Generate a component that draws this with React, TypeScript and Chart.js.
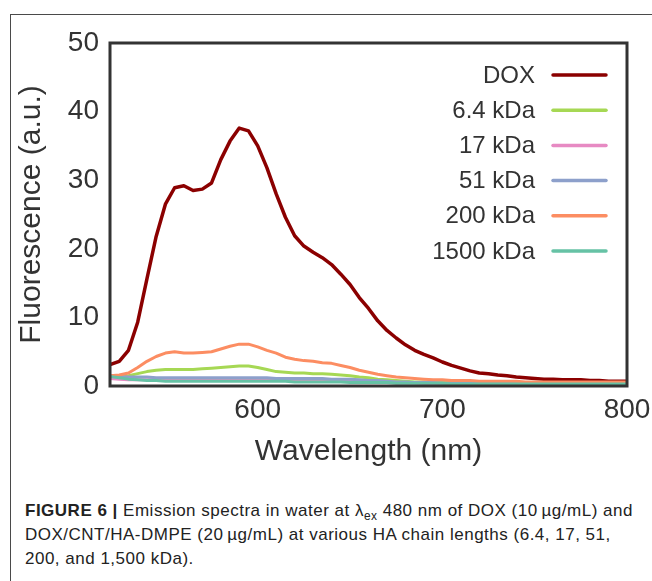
import React, { useEffect, useRef } from "react";
import { Chart, registerables } from "chart.js";

Chart.register(...registerables);

// Wavelength grid (nm)
const wavelengths = [
  520, 525, 530, 535, 540, 545, 550, 555, 560, 565, 570, 575, 580, 585, 590, 595,
  600, 605, 610, 615, 620, 625, 630, 635, 640, 645, 650, 655, 660, 665, 670, 675,
  680, 685, 690, 695, 700, 705, 710, 715, 720, 725, 730, 735, 740, 745, 750, 755,
  760, 765, 770, 775, 780, 785, 790, 795, 800,
];

const seriesLabels = ["DOX", "6.4 kDa", "17 kDa", "51 kDa", "200 kDa", "1500 kDa"];
const seriesColors = ["#8b0000", "#a6d854", "#e78ac3", "#8da0cb", "#fc8d62", "#66c2a5"];

const dox = [
  3.1, 3.6, 5.2, 9.3, 15.6, 21.8, 26.5, 28.9, 29.2, 28.5, 28.7, 29.6, 33.0, 35.7, 37.6, 37.2,
  35.0, 31.8, 28.0, 24.6, 21.9, 20.4, 19.5, 18.7, 17.7, 16.3, 14.8, 12.9, 11.3, 9.5, 8.1, 7.0,
  6.0, 5.2, 4.6, 4.1, 3.5, 3.0, 2.6, 2.2, 1.9, 1.8, 1.6, 1.5, 1.3, 1.2, 1.1, 1.0,
  1.0, 0.9, 0.9, 0.9, 0.8, 0.8, 0.7, 0.7, 0.7,
];
const kda6_4 = [
  1.4, 1.4, 1.5, 1.8, 2.1, 2.3, 2.4, 2.4, 2.4, 2.4, 2.5, 2.6, 2.7, 2.8, 2.9, 2.9,
  2.7, 2.4, 2.1, 2.0, 1.9, 1.9, 1.8, 1.8, 1.7, 1.6, 1.5, 1.3, 1.2, 1.0, 0.9, 0.8,
  0.7, 0.6, 0.6, 0.5, 0.5, 0.5, 0.5, 0.4, 0.4, 0.4, 0.4, 0.4, 0.4, 0.4, 0.4, 0.4,
  0.4, 0.4, 0.4, 0.4, 0.4, 0.4, 0.4, 0.4, 0.4,
];
const kda17 = [
  1.1, 1.0, 0.9, 0.9, 0.9, 0.9, 0.9, 0.8, 0.8, 0.8, 0.8, 0.8, 0.8, 0.8, 0.8, 0.8,
  0.8, 0.8, 0.8, 0.8, 0.8, 0.8, 0.8, 0.8, 0.8, 0.7, 0.7, 0.7, 0.7, 0.6, 0.6, 0.5,
  0.5, 0.5, 0.4, 0.4, 0.4, 0.4, 0.4, 0.4, 0.4, 0.3, 0.3, 0.3, 0.3, 0.3, 0.3, 0.3,
  0.3, 0.3, 0.3, 0.3, 0.3, 0.3, 0.3, 0.3, 0.3,
];
const kda51 = [
  1.5, 1.4, 1.3, 1.3, 1.3, 1.2, 1.2, 1.2, 1.2, 1.2, 1.2, 1.2, 1.2, 1.2, 1.2, 1.2,
  1.2, 1.2, 1.1, 1.1, 1.1, 1.1, 1.1, 1.1, 1.0, 1.0, 1.0, 0.9, 0.8, 0.8, 0.7, 0.6,
  0.6, 0.5, 0.5, 0.5, 0.4, 0.4, 0.4, 0.4, 0.4, 0.4, 0.4, 0.4, 0.3, 0.3, 0.3, 0.3,
  0.3, 0.3, 0.3, 0.3, 0.3, 0.3, 0.3, 0.3, 0.3,
];
const kda200 = [
  1.5, 1.6, 1.9, 2.7, 3.6, 4.3, 4.8, 5.0, 4.8, 4.8, 4.9, 5.0, 5.4, 5.8, 6.1, 6.1,
  5.7, 5.2, 4.8, 4.2, 3.9, 3.7, 3.6, 3.4, 3.3, 3.0, 2.7, 2.3, 2.0, 1.7, 1.5, 1.3,
  1.2, 1.1, 1.0, 0.9, 0.9, 0.8, 0.8, 0.8, 0.7, 0.7, 0.7, 0.7, 0.7, 0.6, 0.6, 0.6,
  0.6, 0.6, 0.6, 0.6, 0.6, 0.6, 0.6, 0.6, 0.6,
];
const kda1500 = [
  1.4, 1.2, 1.0, 0.9, 0.8, 0.8, 0.7, 0.7, 0.7, 0.7, 0.7, 0.7, 0.7, 0.7, 0.7, 0.7,
  0.7, 0.7, 0.7, 0.7, 0.6, 0.6, 0.6, 0.6, 0.6, 0.6, 0.5, 0.5, 0.5, 0.5, 0.5, 0.4,
  0.4, 0.4, 0.4, 0.4, 0.4, 0.3, 0.3, 0.3, 0.3, 0.3, 0.3, 0.3, 0.3, 0.3, 0.3, 0.3,
  0.3, 0.3, 0.3, 0.3, 0.3, 0.3, 0.3, 0.3, 0.3,
];

const seriesValues = [dox, kda6_4, kda17, kda51, kda200, kda1500];

const xTicks = [600, 700, 800];
const yTicks = [0, 10, 20, 30, 40, 50];

const TEXT = "#333333";
const FONT = "'Liberation Sans', Arial, Helvetica, sans-serif";

const framePlugin = {
  id: "frame",
  afterDatasetsDraw(chart: any) {
    const { ctx, chartArea } = chart;
    ctx.save();
    ctx.strokeStyle = "#333333";
    ctx.lineWidth = 3;
    ctx.strokeRect(chartArea.left, chartArea.top, chartArea.right - chartArea.left, chartArea.bottom - chartArea.top);
    ctx.restore();
  },
};

const legendPlugin = {
  id: "customLegend",
  afterDraw(chart: any) {
    const { ctx } = chart;
    ctx.save();
    ctx.font = `24px ${FONT}`;
    ctx.textAlign = "right";
    ctx.textBaseline = "middle";
    const textRight = 535;
    const lineX0 = 553;
    const lineX1 = 606;
    const y0 = 75;
    const dy = 35.2;
    chart.data.datasets.forEach((ds: any, i: number) => {
      const y = y0 + i * dy;
      ctx.fillStyle = TEXT;
      ctx.fillText(ds.label, textRight, y + 1);
      ctx.strokeStyle = ds.borderColor;
      ctx.lineWidth = 3.5;
      ctx.lineCap = "round";
      ctx.beginPath();
      ctx.moveTo(lineX0, y);
      ctx.lineTo(lineX1, y);
      ctx.stroke();
    });
    ctx.restore();
  },
};

export default function App() {
  const canvasRef = useRef<HTMLCanvasElement | null>(null);

  useEffect(() => {
    if (!canvasRef.current) return;
    const datasets = seriesLabels.map((label, i) => ({
      label,
      data: wavelengths.map((w, j) => ({ x: w, y: seriesValues[i][j] })),
      borderColor: seriesColors[i],
      backgroundColor: seriesColors[i],
      borderWidth: i === 0 ? 3.5 : 3,
      pointRadius: 0,
      tension: 0,
      fill: false,
      borderJoinStyle: "round" as const,
      order: seriesLabels.length - i,
    }));

    const chart = new Chart(canvasRef.current, {
      type: "line",
      data: { datasets },
      options: {
        animation: false,
        responsive: false,
        maintainAspectRatio: false,
        layout: { padding: { top: 43, right: 25, left: 0, bottom: 0 } },
        plugins: { legend: { display: false }, tooltip: { enabled: false } },
        scales: {
          x: {
            type: "linear",
            min: 520,
            max: 800,
            grid: { display: false, drawTicks: false },
            border: { display: false },
            afterBuildTicks: (scale: any) => {
              scale.ticks = xTicks.map((v) => ({ value: v }));
            },
            afterFit: (scale: any) => {
              scale.height = 94;
              scale.paddingLeft = 0;
              scale.paddingRight = 0;
            },
            ticks: {
              color: TEXT,
              padding: 7,
              maxRotation: 0,
              autoSkip: false,
              font: { family: FONT, size: 28 },
            },
            title: {
              display: true,
              text: "Wavelength (nm)",
              color: TEXT,
              font: { family: FONT, size: 30, lineHeight: 1.2 },
              padding: { top: 0, bottom: 10 },
            },
          },
          y: {
            type: "linear",
            min: 0,
            max: 50,
            grid: { display: false, drawTicks: false },
            border: { display: false },
            afterBuildTicks: (scale: any) => {
              scale.ticks = yTicks.map((v) => ({ value: v }));
            },
            afterFit: (scale: any) => {
              scale.width = 110;
              scale.paddingTop = 0;
              scale.paddingBottom = 0;
            },
            ticks: {
              color: TEXT,
              padding: 11,
              autoSkip: false,
              font: { family: FONT, size: 28 },
            },
            title: {
              display: true,
              text: "Fluorescence (a.u.)",
              color: TEXT,
              font: { family: FONT, size: 30, lineHeight: 1.2 },
              padding: { top: 14, bottom: 0 },
            },
          },
        },
      },
      plugins: [framePlugin, legendPlugin],
    });
    return () => chart.destroy();
  }, []);

  return (
    <div style={{ position: "absolute", left: 0, top: 0, width: 652, height: 581, overflow: "hidden", background: "#fff" }}>
      <div
        style={{
          position: "absolute",
          left: 10,
          top: 14,
          width: 700,
          height: 620,
          borderTop: "1px solid #4a4a4a",
          borderLeft: "1px solid #4a4a4a",
        }}
      />
      <canvas
        ref={canvasRef}
        width={652}
        height={480}
        style={{ position: "absolute", left: 0, top: 0, width: 652, height: 480 }}
      />
      <div
        style={{
          position: "absolute",
          left: 25,
          top: 499,
          width: 625,
          fontFamily: FONT,
          fontSize: 17,
          letterSpacing: "0.5px",
          lineHeight: "24px",
          color: "#222",
          whiteSpace: "nowrap",
        }}
      >
        <b>FIGURE 6 |</b> Emission spectra in water at λ<sub style={{ fontSize: "0.7em", lineHeight: 0 }}>ex</sub> 480 nm of DOX (10&#8201;µg/mL) and
        <br />
        DOX/CNT/HA-DMPE (20&#8201;µg/mL) at various HA chain lengths (6.4, 17, 51,
        <br />
        200, and 1,500 kDa).
      </div>
    </div>
  );
}
